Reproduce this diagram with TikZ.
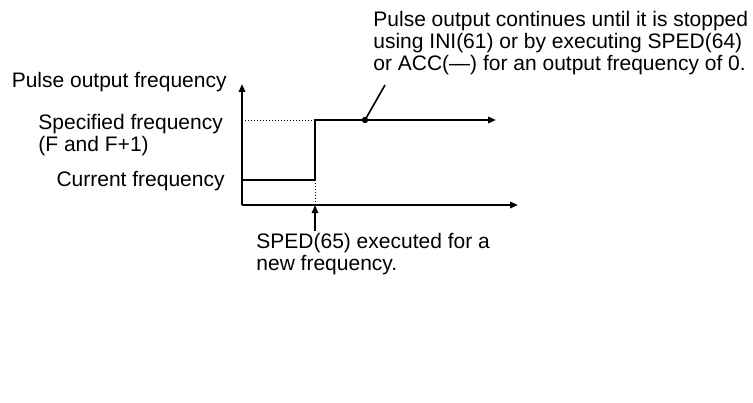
\documentclass[tikz,border=0pt]{standalone}
\usepackage{fontspec}
\setmainfont{Liberation Sans}
\usetikzlibrary{arrows.meta,positioning}

\begin{document}
\begin{tikzpicture}[x=0.5pt,y=0.5pt,>={Triangle[length=4pt,width=3.2pt]},
  lbl/.style={inner sep=0pt,align=left,font=\fontsize{10.5}{10.9}\selectfont},
  dots/.style={line width=0.4pt,dash pattern=on 0.6pt off 0.9pt}]
\useasboundingbox (0,0) rectangle (753,402);
% axes and points of the curve
\coordinate (O) at (242,197);
\coordinate (ytip) at (242,318);
\coordinate (xtip) at (518,197);
\coordinate (lo) at (242,222);
\coordinate (step) at (315,222);
\coordinate (hi) at (315,282);
\coordinate (hitip) at (496,282);
\coordinate (yhi) at (242,282);
\coordinate (xstep) at (315,197);
\draw[->,line width=1.1pt] (O)--(ytip);
\draw[->,line width=1.1pt] (O)--(xtip);
\draw[dots] (yhi)--(hi);
\draw[dots] (step)--(xstep);
\draw[->,line width=1.4pt] (lo)--(step)--(hi)--(hitip);
% labels
\node[lbl,anchor=east] (axislbl) at (227,320) {Pulse output frequency};
\node[lbl,anchor=west] (speclbl) at (38,267) {Specified frequency\\(F and F+1)};
\node[lbl,anchor=east] (curlbl) at (225,221) {Current frequency};
\node[lbl,anchor=west] (stopnote) at (373,359) {Pulse output continues until it is stopped\\using INI(61) or by executing SPED(64)\\or ACC(---) for an output frequency of 0.};
\node[lbl,anchor=west] (spednote) at (256,148) {SPED(65) executed for a\\new frequency.};
% callouts
\coordinate (hidot) at (365,282);
\coordinate (noteend) at (385,317);
\coordinate (trig) at (315,171);
\fill (hidot) circle (1.6pt);
\draw[line width=0.8pt] (hidot)--(noteend);
\draw[->,line width=0.7pt] (trig)--(xstep);
\end{tikzpicture}
\end{document}
